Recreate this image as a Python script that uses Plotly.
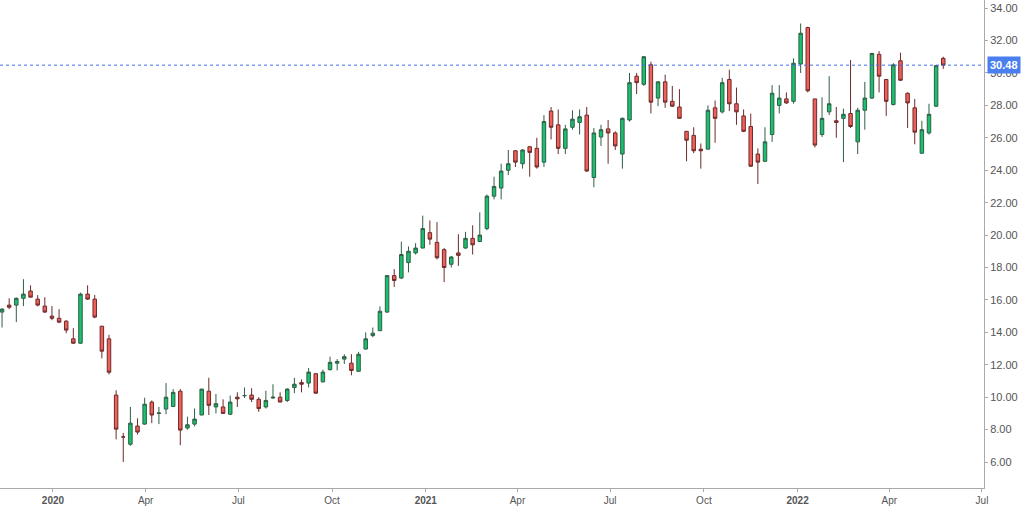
import plotly.graph_objects as go
import pandas as pd

opens = [15.25,15.68,15.68,16.1,16.55,16.05,15.62,15.0,14.87,14.69,13.6,13.33,16.36,16.05,14.38,13.6,10.13,7.55,7.1,8.22,
8.34,9.7,9.0,9.27,9.43,10.37,8.1,8.34,8.9,10.37,9.4,9.4,8.95,10.0,10.1,10.13,9.87,9.4,9.95,10.0,
9.8,10.6,10.9,10.87,11.45,10.95,11.7,12.1,12.35,12.1,11.6,12.97,13.8,14.1,15.25,17.5,17.35,18.3,18.9,19.2,
20.15,19.55,19.1,18.2,18.9,19.2,19.8,19.6,20.4,22.4,22.9,24.0,25.2,24.4,25.45,25.35,24.5,27.65,26.8,25.35,
26.65,26.95,27.4,23.55,26.05,26.55,26.3,25.0,27.1,29.8,29.3,30.5,28.45,29.45,28.25,27.9,26.4,26.15,25.3,25.3,
27.85,27.6,29.6,28.1,27.35,26.7,25.0,24.55,26.2,28.0,28.4,28.25,30.55,32.8,28.4,26.2,27.6,27.05,27.2,27.5,
25.75,27.7,28.45,31.15,29.6,28.05,30.75,28.75,27.85,25.05,26.3,27.95,30.9]
highs = [15.5,16.1,16.15,17.28,16.9,16.3,16.17,15.62,15.43,14.75,14.26,16.45,16.9,16.3,14.4,13.85,10.43,7.8,9.4,8.7,
9.97,9.8,9.4,10.87,10.5,10.5,8.8,9.3,10.5,11.2,10.2,9.87,10.1,10.3,10.6,10.55,10.0,10.4,10.8,10.3,
10.55,11.2,11.1,11.8,11.5,11.7,12.5,12.35,12.65,12.65,12.8,14.0,14.3,15.6,17.5,17.9,19.6,19.3,19.5,21.2,
20.9,20.8,19.2,18.7,20.05,20.2,20.6,21.4,22.5,23.6,24.4,25.25,25.25,25.3,25.5,26.0,27.4,27.9,27.75,26.8,
27.7,27.75,27.9,26.6,26.8,27.1,26.4,27.25,30.0,30.0,31.05,30.7,29.5,29.9,29.2,29.0,26.4,26.65,25.65,28.0,
28.3,29.7,30.2,29.1,27.75,27.5,25.35,26.65,29.25,29.25,28.8,30.9,33.05,32.85,28.4,28.5,29.8,27.9,27.8,30.8,
27.85,29.45,31.25,31.35,29.6,30.6,31.25,28.8,28.4,27.05,28.1,30.5,31.0]
lows = [14.3,15.43,14.63,15.62,16.17,15.6,15.2,14.75,14.57,13.95,13.3,13.3,16.0,14.87,12.4,11.4,7.4,6.0,7.0,7.7,
8.3,8.4,8.34,8.95,9.4,7.04,8.0,8.2,8.9,8.9,9.0,9.0,8.9,9.4,9.95,9.7,9.1,9.3,9.9,9.7,
9.7,10.25,10.3,10.6,10.2,10.9,11.65,11.65,12.05,11.35,11.55,12.95,13.7,14.1,15.2,16.8,17.3,17.7,18.8,19.2,
19.4,18.5,17.1,18.0,18.1,19.15,18.8,19.6,20.3,22.2,22.2,23.7,24.2,24.1,23.6,24.1,24.2,25.9,25.0,25.0,
26.5,26.2,23.9,22.95,25.5,24.4,25.25,24.1,27.0,28.7,29.2,27.5,27.95,27.85,27.9,27.2,24.55,25.05,24.1,25.3,
25.7,27.5,27.65,26.8,26.35,24.2,23.15,24.5,25.75,27.5,28.1,28.1,30.0,28.8,25.4,26.05,27.4,26.0,24.5,26.6,
25.0,26.5,28.4,28.8,27.35,28.0,29.5,26.6,25.6,25.0,26.2,27.9,30.25]
closes = [15.43,15.55,16.1,16.36,16.17,15.68,15.25,14.87,14.63,14.14,13.33,16.36,16.05,14.94,12.84,11.54,8.03,7.55,8.4,7.85,
9.57,8.9,9.03,10.0,10.3,7.97,8.3,8.65,10.5,9.5,9.6,9.0,9.7,9.9,10.1,9.87,9.3,9.8,10.0,9.7,
10.5,10.8,10.8,11.55,10.25,11.55,12.15,12.2,12.5,11.65,12.65,13.6,13.95,15.3,17.5,17.2,18.8,19.0,19.2,20.4,
19.75,18.6,18.0,18.65,18.75,19.8,19.4,20.0,22.4,23.0,23.95,24.4,24.5,25.25,25.1,24.2,27.0,26.65,25.35,26.55,
27.15,27.3,23.95,26.3,26.5,26.3,25.5,27.2,29.4,29.4,31.0,28.2,29.45,28.2,27.95,27.2,25.85,25.2,25.2,27.7,
27.2,29.4,28.1,27.6,26.4,24.25,24.5,25.75,28.75,28.45,28.15,30.6,32.45,28.9,25.55,27.2,28.1,26.95,27.45,26.7,
27.7,28.45,31.2,29.8,28.25,30.5,29.55,28.15,26.35,26.5,27.45,30.45,30.48]
dates = pd.date_range("2019-11-12", periods=len(closes), freq="7D")
last_price = 30.48

tick_dates = ["2020-01-01","2020-04-01","2020-07-01","2020-10-01","2021-01-01","2021-04-01","2021-07-01",
              "2021-10-01","2022-01-01","2022-04-01","2022-07-01"]
tick_text = ["<b>2020</b>","Apr","Jul","Oct","<b>2021</b>","Apr","Jul","Oct","<b>2022</b>","Apr","Jul"]
y_ticks = [6,8,10,12,14,16,18,20,22,24,26,28,30,32,34]

fig = go.Figure(go.Candlestick(
    x=dates, open=opens, high=highs, low=lows, close=closes,
    increasing=dict(fillcolor="#19c06e", line=dict(color="#2f5e45", width=1)),
    decreasing=dict(fillcolor="#f0605a", line=dict(color="#6e2a2a", width=1)),
    whiskerwidth=0, showlegend=False, hoverinfo="skip"))

fig.add_hline(y=last_price, line=dict(color="#3d6df0", width=1, dash="dot"))
fig.add_annotation(x=1, xref="paper", xanchor="left", xshift=3, y=last_price, yref="y", text="<b>30.48</b>",
                   showarrow=False, bgcolor="#4a7ff0", font=dict(color="white", size=11, family="Arial"),
                   borderpad=2)

fig.update_layout(
    width=1024, height=508, margin=dict(l=0, r=40, t=0, b=20, autoexpand=False),
    paper_bgcolor="white", plot_bgcolor="white", hovermode=False,
    font=dict(family="Arial", size=11, color="#555"),
    xaxis=dict(rangeslider=dict(visible=False), range=["2019-11-10", "2022-07-03"],
               tickvals=tick_dates, ticktext=tick_text, showgrid=False, tickfont=dict(size=10),
               showline=True, linecolor="#aaa", ticks="outside", ticklen=3, tickcolor="#aaa"),
    yaxis=dict(side="right", range=[4.4, 34.5], tickvals=y_ticks, tickformat=".2f", showgrid=False,
               tickfont=dict(size=11),
               showline=True, linecolor="#aaa", ticks="outside", ticklen=3, tickcolor="#aaa"),
)
fig.write_html("out.html", config={"responsive": False, "displayModeBar": False})
with open("out.html", encoding="utf-8") as f:
    html = f.read()
html = html.replace("<head>", "<head><style>html,body{margin:0;padding:0;overflow:hidden}</style>", 1)
with open("out.html", "w", encoding="utf-8") as f:
    f.write(html)
